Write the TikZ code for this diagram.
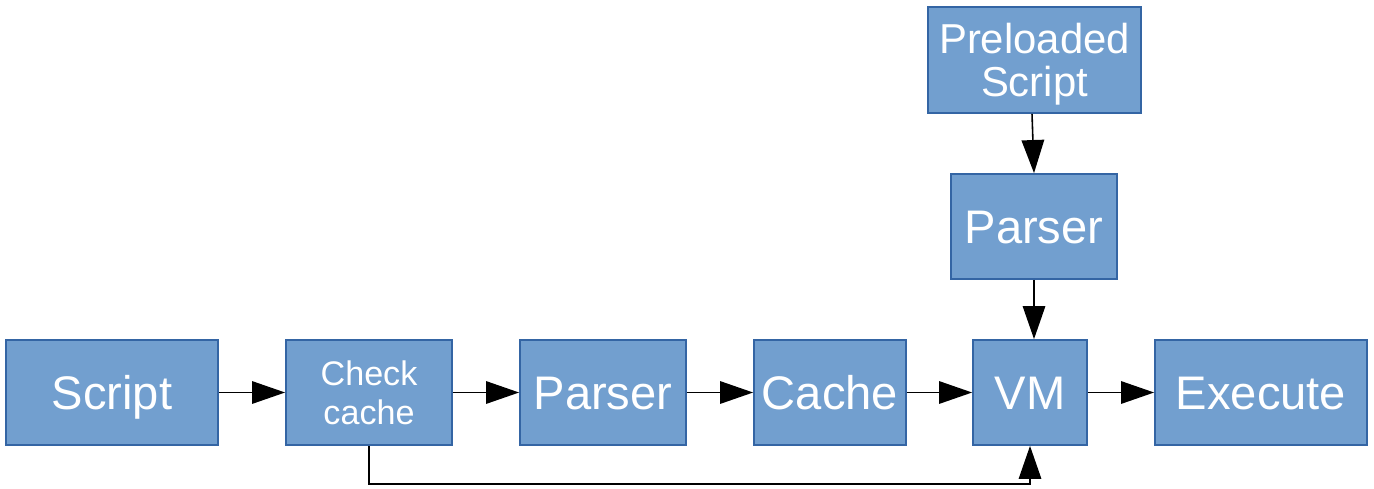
\documentclass[tikz,border=0pt]{standalone}
\usepackage{fontspec}
\setmainfont{Liberation Sans}
\usetikzlibrary{arrows.meta}
\definecolor{boxblue}{HTML}{729FCF}
\definecolor{boxedge}{HTML}{3465A4}

\begin{document}
\begin{tikzpicture}[x=0.01cm, y=-0.01cm,
    stage/.style={draw=boxedge, fill=boxblue, text=white, line width=0.5pt,
        inner sep=0pt, minimum height=1.05cm, align=center,
        font=\fontsize{13.4}{15}\selectfont},
    oneline/.style={text height=12.06pt, text depth=2.47pt},
    flow/.style={line width=0.45pt, -{Triangle[length=9.4pt, width=6.4pt]}}]
    \useasboundingbox (0,0) rectangle (1374,488);

    % Fila principal
    \node[stage, oneline, minimum width=2.12cm] (script) at (112,392.5) {Script};
    \node[stage, minimum width=1.66cm, font=\fontsize{9.7}{11.1}\selectfont] (check) at (369,392.5) {Check\\cache};
    \node[stage, oneline, minimum width=1.66cm] (parser) at (603,392.5) {Parser};
    \node[stage, oneline, minimum width=1.52cm] (cache) at (830,392.5) {Cache};
    \node[stage, oneline, minimum width=1.14cm] (vm) at (1030,392.5) {VM};
    \node[stage, oneline, minimum width=2.12cm] (execute) at (1261,392.5) {Execute};

    % Rama precargada
    \node[stage, oneline, minimum width=1.66cm] (parsertop) at (1034,226.5) {Parser};
    \node[stage, minimum width=2.13cm, minimum height=1.06cm, text depth=0pt, font=\fontsize{11.9}{12.2}\selectfont] (preload) at (1034.5,60) {Preloaded\\Script};

    % Flechas
    \draw[flow] (script) -- (check);
    \draw[flow] (check) -- (parser);
    \draw[flow] (parser) -- (cache);
    \draw[flow] (cache) -- (vm);
    \draw[flow] (vm) -- (execute);
    \draw[flow] ([xshift=-0.025cm]preload.south) -- (parsertop.north);
    \draw[flow] (parsertop.south) -- (parsertop.south |- vm.north);

    % Atajo desde la cache
    \draw[flow] (check.south) -- (check.south |- 0,484) -| (vm.south);
\end{tikzpicture}
\end{document}
